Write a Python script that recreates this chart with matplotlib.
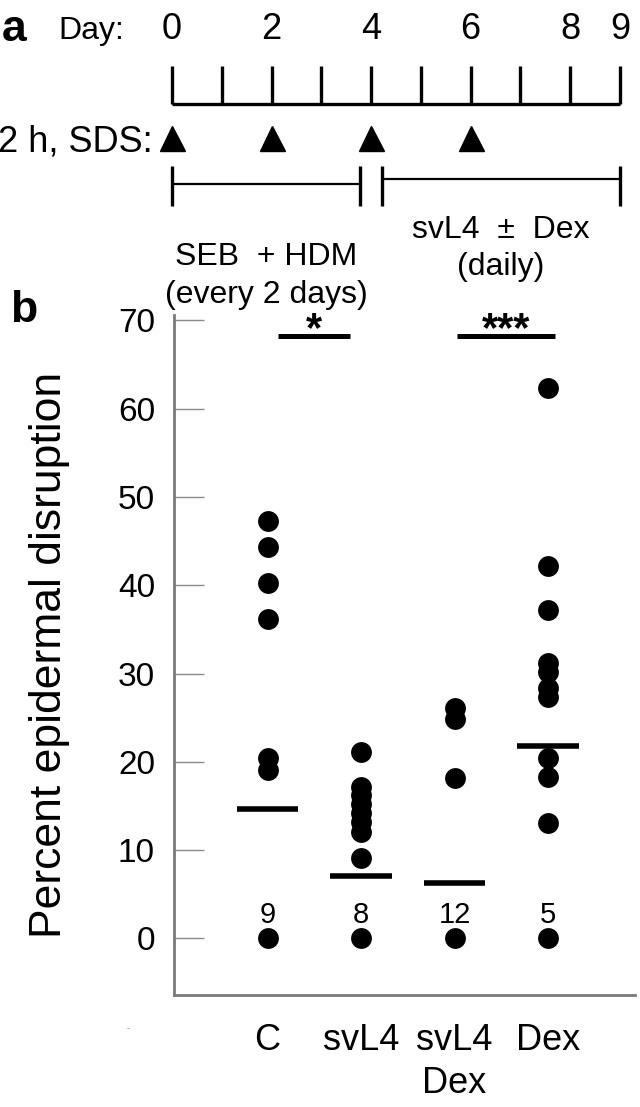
"""Two-panel figure: (a) dosing timeline, (b) epidermal disruption dot plot."""

import matplotlib

matplotlib.use("Agg")
import matplotlib.pyplot as plt

plt.rcParams["font.family"] = ["Liberation Sans", "DejaVu Sans"]

# ---- panel a: protocol timeline (in days) ----
TIMELINE_DAYS = list(range(10))
DAY_LABELS = [0, 2, 4, 6, 8, 9]
SDS_DAYS = [0, 2, 4, 6]
SEB_HDM_SPAN = (0, 3.78)
SVL4_SPAN = (4.22, 9)

# ---- panel b: percent epidermal disruption per mouse ----
GROUPS = ["C", "svL4", "svL4\nDex", "Dex"]
C_VALUES = [47.3, 44.3, 40.2, 36.2, 20.4, 19.1, 0]
SVL4_VALUES = [21.1, 17.2, 16.2, 15.2, 14.2, 13.2, 12.1, 9.1, 0]
SVL4_DEX_VALUES = [26.1, 24.9, 18.2, 0]
DEX_VALUES = [62.3, 42.2, 37.2, 31.2, 30.2, 28.4, 27.3, 20.4, 18.3, 13.1, 0]
GROUP_MEANS = [14.7, 7.1, 6.3, 21.8]
GROUP_N = ["9", "8", "12", "5"]
SIG_LABELS = ["*", "***"]
SIG_SPANS = [(1.11, 1.88), (3.03, 4.07)]
SIG_Y = 68.2

W, H = 640, 1107
fig = plt.figure(figsize=(W / 100, H / 100), dpi=100)

# ---------------- panel a ----------------
PX_DAY0, PX_PER_DAY = 172, 49.78
A_H = 310
ax_a = fig.add_axes([0, 1 - A_H / H, 1, A_H / H])
ax_a.set_xlim(-PX_DAY0 / PX_PER_DAY, (W - PX_DAY0) / PX_PER_DAY)
ax_a.set_ylim(A_H, 0)  # rows measured from the top
ax_a.axis("off")

ax_a.hlines(103.6, TIMELINE_DAYS[0], TIMELINE_DAYS[-1], color="black", lw=2.4)
ax_a.vlines(TIMELINE_DAYS, 66, 103.6, color="black", lw=2.4)
for d in DAY_LABELS:
    ax_a.text(d, 39.4, str(d), ha="center", va="baseline", fontsize=26)
ax_a.text(-0.96, 39.4, "Day:", ha="right", va="baseline", fontsize=23)

ax_a.plot(SDS_DAYS, [137.5] * len(SDS_DAYS), "^", ms=18, color="black")
ax_a.text(-0.38, 151, "2 h, SDS:", ha="right", va="baseline", fontsize=26)

for span, y in [(SEB_HDM_SPAN, 184), (SVL4_SPAN, 179)]:
    ax_a.hlines(y, span[0], span[1], color="black", lw=1.6)
    ax_a.vlines(list(span), 166, 206, color="black", lw=2.4)

mid = sum(SEB_HDM_SPAN) / 2
ax_a.text(mid, 265, "SEB  + HDM", ha="center", va="baseline", fontsize=23)
ax_a.text(mid, 303, "(every 2 days)", ha="center", va="baseline", fontsize=23)
mid = sum(SVL4_SPAN) / 2
ax_a.text(mid, 238, "svL4  \u00b1  Dex", ha="center", va="baseline", fontsize=23)
ax_a.text(mid, 275, "(daily)", ha="center", va="baseline", fontsize=23)

fig.text(2 / W, 1 - 41.4 / H, "a", fontsize=32, fontweight="bold", va="baseline")

# ---------------- panel b ----------------
ax = fig.add_axes([174 / W, 112 / H, 461 / W, 680 / H])
positions = list(range(1, len(GROUPS) + 1))
all_values = [C_VALUES, SVL4_VALUES, SVL4_DEX_VALUES, DEX_VALUES]

for pos, vals, mean, n in zip(positions, all_values, GROUP_MEANS, GROUP_N):
    ax.plot([pos] * len(vals), vals, "o", color="black", ms=15, mec="none",
            clip_on=False)
    ax.hlines(mean, pos - 0.33, pos + 0.33, color="black", lw=4)
    ax.text(pos, 1.73, n, ha="center", va="baseline", fontsize=21)

for label, (x0, x1) in zip(SIG_LABELS, SIG_SPANS):
    ax.hlines(SIG_Y, x0, x1, color="black", lw=3.6, clip_on=False)
    ax.text((x0 + x1) / 2, 67.6, label, ha="center", va="baseline",
            fontsize=30, fontweight="bold", clip_on=False)

ax.set_xlim(0, 4.93)
ax.set_ylim(-6.4, 70.6)
ax.set_yticks(range(0, 71, 10))
ax.set_xticks(positions)
ax.set_xticklabels(GROUPS)
for lbl in ax.get_xticklabels():
    lbl.set_linespacing(1.3)

for side in ("top", "right"):
    ax.spines[side].set_visible(False)
for side in ("left", "bottom"):
    ax.spines[side].set_color("#7a7a7a")
    ax.spines[side].set_linewidth(2)

ax.tick_params(axis="y", direction="in", length=21.6, width=1.0,
               color="#8a8a8a", labelsize=24, pad=13.7)
ax.tick_params(axis="x", length=0, labelsize=26, pad=20)

fig.text(50 / W, 1 - 655 / H, "Percent epidermal disruption", rotation=90,
         ha="center", va="center", fontsize=32)
fig.text(10 / W, 1 - 321.7 / H, "b", fontsize=32, fontweight="bold",
         va="baseline")
fig.text(128 / W, 1 - 1028 / H, "-", fontsize=7, color="#999999",
         ha="center", va="center")

fig.savefig("out.png", dpi=100)
